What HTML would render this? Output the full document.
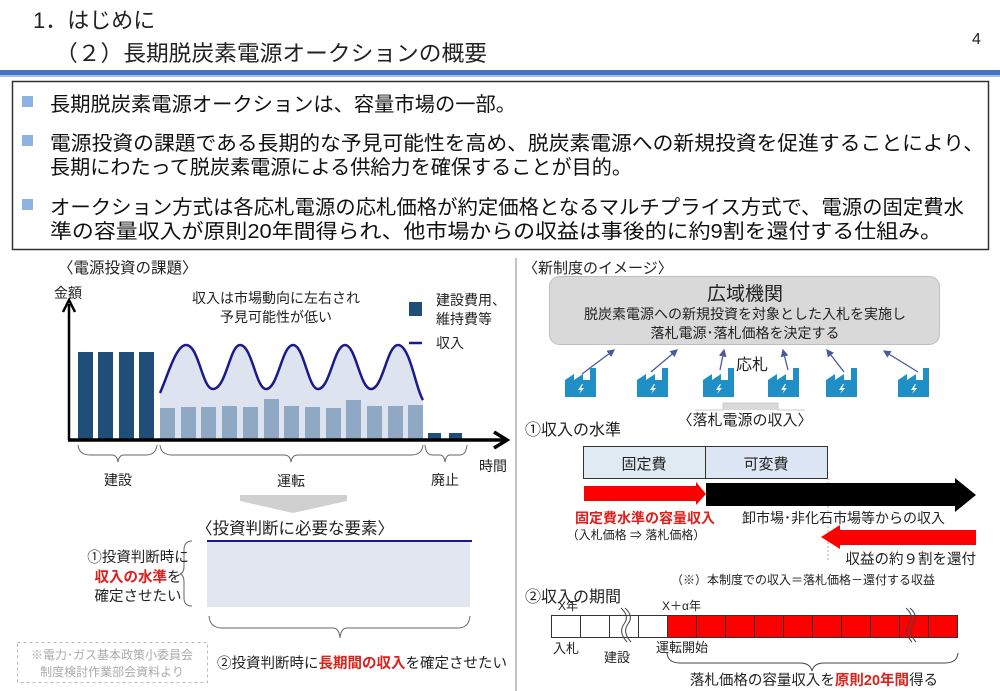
<!DOCTYPE html>
<html><head><meta charset="utf-8"><style>
html,body{margin:0;padding:0;background:#fff;}
svg{display:block;font-family:"Liberation Sans","Noto Sans CJK JP",sans-serif;}
</style></head><body>
<svg width="1000" height="691" viewBox="0 0 1000 691" xmlns="http://www.w3.org/2000/svg">
<defs>
<marker id="ab" markerWidth="6" markerHeight="6" refX="5" refY="3" orient="auto" markerUnits="strokeWidth"><path d="M0,0 L6,3 L0,6 Z" fill="#4a5a9a"/></marker>
<g id="fac"><path d="M0,30 L0,13 L9,7 L9,13 L18,7 L18,13 L25,13 L25,1 L31,1 L31,30 Z" fill="#1f8fc6"/><path d="M17,17 L13,23 L16,23 L14,27 L19,21 L16,21 L18,17 Z" fill="#fff"/></g>
</defs>
<!-- header -->
<text x="33" y="28" font-size="22" fill="#222">1．はじめに</text>
<text x="55" y="61" font-size="22" fill="#222" textLength="432" lengthAdjust="spacingAndGlyphs">（２）長期脱炭素電源オークションの概要</text>
<text x="972" y="44" font-size="16" fill="#222">4</text>
<rect x="0" y="70" width="1000" height="5" fill="#4472c4"/>
<rect x="0" y="75" width="1000" height="2" fill="#9dc3e6"/>
<!-- summary box -->
<rect x="12.5" y="81.5" width="976" height="168" fill="#fff" stroke="#333" stroke-width="1.5"/>
<g font-size="20" fill="#111">
<rect x="22" y="96" width="11" height="11" fill="#8db3e2"/>
<text x="50" y="111" textLength="466" lengthAdjust="spacingAndGlyphs">長期脱炭素電源オークションは、容量市場の一部。</text>
<rect x="22" y="135" width="11" height="11" fill="#8db3e2"/>
<text x="50" y="150" textLength="934" lengthAdjust="spacingAndGlyphs">電源投資の課題である長期的な予見可能性を高め、脱炭素電源への新規投資を促進することにより、</text>
<text x="50" y="174" textLength="582" lengthAdjust="spacingAndGlyphs">長期にわたって脱炭素電源による供給力を確保することが目的。</text>
<rect x="22" y="199" width="11" height="11" fill="#8db3e2"/>
<text x="50" y="214" textLength="914" lengthAdjust="spacingAndGlyphs">オークション方式は各応札電源の応札価格が約定価格となるマルチプライス方式で、電源の固定費水</text>
<text x="50" y="238" textLength="892" lengthAdjust="spacingAndGlyphs">準の容量収入が原則20年間得られ、他市場からの収益は事後的に約9割を還付する仕組み。</text>
</g>
<!-- divider -->
<line x1="516" y1="258" x2="516" y2="691" stroke="#888" stroke-width="1"/>
<!-- LEFT -->
<text x="58" y="273" font-size="15.5" fill="#222">〈電源投資の課題〉</text>
<text x="54" y="298" font-size="14" fill="#222">金額</text>
<text x="276" y="303" font-size="14" fill="#222" text-anchor="middle">収入は市場動向に左右され</text>
<text x="276" y="322" font-size="14" fill="#222" text-anchor="middle">予見可能性が低い</text>
<rect x="409" y="302" width="13" height="14" fill="#1f4e79"/>
<text x="436" y="305" font-size="14" fill="#222">建設費用、</text>
<text x="436" y="324" font-size="14" fill="#222">維持費等</text>
<line x1="409" y1="343" x2="422" y2="343" stroke="#1a1a8c" stroke-width="2.5"/>
<text x="436" y="348" font-size="14" fill="#222">収入</text>
<!-- shaded area + wave -->
<path d="M160,393 C168,375 176,345 186,345 C199,345 202,389 213,389 C226,389 230,345 240,345 C252,345 256,389 266,389 C278,389 282,345 293,345 C304,345 308,389 318,389 C330,389 334,345 345,345 C356,345 360,389 371,389 C383,389 387,345 398,345 C410,345 416,390 423,400 L423,440 L160,440 Z" fill="#dde4f0"/>
<path d="M160,393 C168,375 176,345 186,345 C199,345 202,389 213,389 C226,389 230,345 240,345 C252,345 256,389 266,389 C278,389 282,345 293,345 C304,345 308,389 318,389 C330,389 334,345 345,345 C356,345 360,389 371,389 C383,389 387,345 398,345 C410,345 416,390 423,400" fill="none" stroke="#1a1a8c" stroke-width="2.5"/>
<g fill="#1f4e79">
<rect x="78" y="352" width="15" height="88"/><rect x="98" y="352" width="15" height="88"/><rect x="119" y="352" width="15" height="88"/><rect x="139" y="352" width="15" height="88"/>
<rect x="428" y="433" width="13" height="7"/><rect x="449" y="433" width="13" height="7"/>
</g>
<g fill="#8fa8c4">
<rect x="160" y="408" width="15" height="32"/><rect x="181" y="407" width="15" height="33"/><rect x="201" y="407" width="15" height="33"/><rect x="222" y="406" width="15" height="34"/><rect x="243" y="407" width="15" height="33"/><rect x="264" y="399" width="15" height="41"/><rect x="284" y="406" width="15" height="34"/><rect x="305" y="407" width="15" height="33"/><rect x="326" y="408" width="15" height="32"/><rect x="346" y="400" width="15" height="40"/><rect x="367" y="406" width="15" height="34"/><rect x="388" y="406" width="15" height="34"/><rect x="408" y="405" width="15" height="35"/>
</g>
<line x1="69" y1="440" x2="69" y2="304" stroke="#000" stroke-width="2.5"/>
<path d="M63,312 L69,300 L75,312" fill="none" stroke="#000" stroke-width="2.5"/>
<line x1="68" y1="440" x2="505" y2="440" stroke="#000" stroke-width="3.5"/>
<path d="M494,432 L507,440 L494,448" fill="none" stroke="#000" stroke-width="3.5"/>
<g fill="none" stroke="#666" stroke-width="1">
<path d="M78,445 Q79,455 90,455 L112,455 Q117,455 118,462 Q119,455 124,455 L146,455 Q156,455 157,445"/>
<path d="M160,445 Q161,455 172,455 L284,455 Q290,455 291,462 Q292,455 298,455 L411,455 Q422,455 423,445"/>
<path d="M425,445 Q426,455 432,455 L440,455 Q444,455 445,462 Q446,455 450,455 L460,455 Q466,455 467,445"/>
</g>
<text x="118" y="485" font-size="14" fill="#222" text-anchor="middle">建設</text>
<text x="291" y="486" font-size="14" fill="#222" text-anchor="middle">運転</text>
<text x="445" y="485" font-size="14" fill="#222" text-anchor="middle">廃止</text>
<text x="479" y="471" font-size="14" fill="#222">時間</text>
<!-- down arrow -->
<path d="M240,495 L347,495 L347,501 L293,513 L240,501 Z" fill="#d0d0d0"/>
<text x="295" y="534" font-size="16.5" fill="#222" text-anchor="middle">〈投資判断に必要な要素〉</text>
<rect x="207" y="541" width="263" height="66" fill="#e1e6f0"/>
<line x1="207" y1="541" x2="472" y2="541" stroke="#1a1a8c" stroke-width="2"/>
<path d="M192,541 Q184,541 184,550 L184,566 Q184,573 180,574 Q184,575 184,582 L184,598 Q184,606 192,606" fill="none" stroke="#666" stroke-width="1"/>
<text x="138" y="562" font-size="14.5" fill="#222" text-anchor="middle">①投資判断時に</text>
<text x="138" y="582" font-size="14.5" fill="#222" text-anchor="middle"><tspan fill="#e0201b" font-weight="bold">収入の水準</tspan>を</text>
<text x="138" y="601" font-size="14.5" fill="#222" text-anchor="middle">確定させたい</text>
<path d="M209,616 Q210,628 222,628 L333,628 Q339,628 340,638 Q341,628 347,628 L458,628 Q469,628 470,616" fill="none" stroke="#666" stroke-width="1"/>
<text x="362" y="668" font-size="14.5" fill="#222" text-anchor="middle">②投資判断時に<tspan fill="#e0201b" font-weight="bold">長期間の収入</tspan>を確定させたい</text>
<rect x="17.5" y="642.5" width="190" height="40" fill="none" stroke="#bbb" stroke-dasharray="3,3"/>
<text x="112" y="659" font-size="12" fill="#aaa" text-anchor="middle">※電力･ガス基本政策小委員会</text>
<text x="112" y="676" font-size="12" fill="#aaa" text-anchor="middle">制度検討作業部会資料より</text>
<!-- RIGHT -->
<text x="523" y="273" font-size="15" fill="#222">〈新制度のイメージ〉</text>
<rect x="549.5" y="276.5" width="390" height="68" rx="10" fill="#d9d9d9" stroke="#bfbfbf"/>
<text x="745" y="300" font-size="19" fill="#222" text-anchor="middle">広域機関</text>
<text x="745" y="319" font-size="14" fill="#222" text-anchor="middle">脱炭素電源への新規投資を対象とした入札を実施し</text>
<text x="745" y="338" font-size="14" fill="#222" text-anchor="middle">落札電源･落札価格を決定する</text>
<g stroke="#4a5a9a" stroke-width="1.3" marker-end="url(#ab)">
<line x1="582" y1="374" x2="614" y2="350"/><line x1="651" y1="372" x2="677" y2="350"/><line x1="720" y1="370" x2="724" y2="350"/><line x1="788" y1="370" x2="783" y2="350"/><line x1="844" y1="372" x2="827" y2="350"/><line x1="918" y1="372" x2="884" y2="351"/>
</g>
<text x="736" y="370" font-size="16" fill="#222">応札</text>
<use href="#fac" x="565" y="367"/><use href="#fac" x="637" y="367"/><use href="#fac" x="703" y="367"/><use href="#fac" x="768" y="367"/><use href="#fac" x="826" y="367"/><use href="#fac" x="898" y="367"/>
<path d="M695,410 L723,410 L723,403 L778,403 L778,410 L805,410" fill="#d9d9d9" stroke="#ccc"/>
<text x="745" y="425" font-size="15" fill="#222" text-anchor="middle">〈落札電源の収入〉</text>
<text x="525" y="435" font-size="16" fill="#222">①収入の水準</text>
<rect x="583.5" y="446.5" width="122" height="32" fill="#dfeaf2" stroke="#333"/>
<rect x="705.5" y="446.5" width="122" height="32" fill="#dce6f4" stroke="#333"/>
<text x="644" y="469" font-size="15" fill="#222" text-anchor="middle">固定費</text>
<text x="766" y="469" font-size="15" fill="#222" text-anchor="middle">可変費</text>
<line x1="828" y1="478" x2="828" y2="562" stroke="#aaa" stroke-dasharray="2,2"/>
<path d="M584,486 L696,486 L696,482 L706,494 L696,505 L696,501 L584,501 Z" fill="#f00"/>
<path d="M706,483 L955,483 L955,478 L976,495 L955,512 L955,506 L706,506 Z" fill="#000"/>
<text x="645" y="523" font-size="14" fill="#e0201b" font-weight="bold" text-anchor="middle">固定費水準の容量収入</text>
<text x="636" y="539" font-size="12" fill="#222" text-anchor="middle">（入札価格 ⇒ 落札価格）</text>
<text x="742" y="523" font-size="14" fill="#222">卸市場･非化石市場等からの収入</text>
<path d="M976,530 L840,530 L840,525 L821,537 L840,549 L840,545 L976,545 Z" fill="#f00"/>
<text x="976" y="564" font-size="14.5" fill="#222" text-anchor="end">収益の約９割を還付</text>
<text x="671" y="584" font-size="12" fill="#222">（※）本制度での収入＝落札価格－還付する収益</text>
<text x="525" y="602" font-size="16" fill="#222">②収入の期間</text>
<text x="558" y="610" font-size="12" fill="#222">X年</text>
<text x="662" y="610" font-size="12" fill="#222">X＋α年</text>
<g stroke="#333" stroke-width="1">
<rect x="551.5" y="615.5" width="29" height="22" fill="#fff"/><rect x="580.5" y="615.5" width="29" height="22" fill="#fff"/><rect x="609.5" y="615.5" width="29" height="22" fill="#fff"/><rect x="638.5" y="615.5" width="29" height="22" fill="#fff"/>
<rect x="667.5" y="615.5" width="29" height="22" fill="#f00"/><rect x="696.5" y="615.5" width="29" height="22" fill="#f00"/><rect x="725.5" y="615.5" width="29" height="22" fill="#f00"/><rect x="754.5" y="615.5" width="29" height="22" fill="#f00"/><rect x="783.5" y="615.5" width="29" height="22" fill="#f00"/><rect x="812.5" y="615.5" width="29" height="22" fill="#f00"/><rect x="841.5" y="615.5" width="29" height="22" fill="#f00"/><rect x="870.5" y="615.5" width="29" height="22" fill="#f00"/><rect x="899.5" y="615.5" width="29" height="22" fill="#f00"/><rect x="928.5" y="615.5" width="29" height="22" fill="#f00"/>
</g>
<g fill="none" stroke="#444" stroke-width="1">
<path d="M621,608 Q630,616 624,624 Q618,632 627,642"/><path d="M625,608 Q634,616 628,624 Q622,632 631,642"/>
<path d="M906,608 Q915,616 909,624 Q903,632 912,642"/><path d="M910,608 Q919,616 913,624 Q907,632 916,642"/>
</g>
<text x="553" y="653" font-size="13" fill="#222">入札</text>
<text x="604" y="662" font-size="13" fill="#222">建設</text>
<text x="656" y="652" font-size="13" fill="#222">運転開始</text>
<path d="M667,653 Q668,663 680,663 L800,663 Q810,663 812,671 Q814,663 824,663 L945,663 Q957,663 958,653" fill="none" stroke="#444" stroke-width="1"/>
<text x="814" y="685" font-size="14.5" fill="#222" text-anchor="middle">落札価格の容量収入を<tspan fill="#e0201b" font-weight="bold">原則20年間</tspan>得る</text>
</svg>
</body></html>
